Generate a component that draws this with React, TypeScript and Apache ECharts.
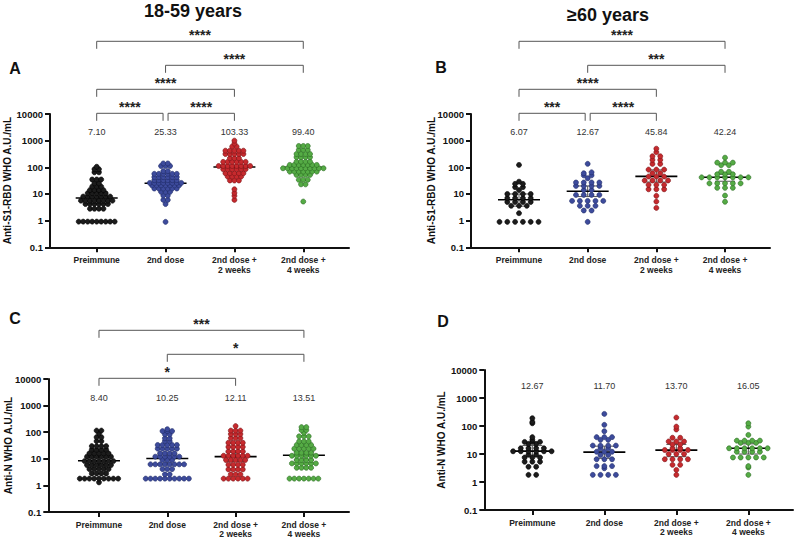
import React, { useEffect, useRef } from "react";
import * as echarts from "echarts";

// ---------- data ----------
const CATEGORIES = ["Preimmune", "2nd dose", "2nd dose +\n2 weeks", "2nd dose +\n4 weeks"];
const Y_TICKS = [0.1, 1, 10, 100, 1000, 10000];

// Panel A: Anti-S1-RBD, 18-59 years
const A_PRE = [105, 85, 85, 65, 65, 35, 35, 35, 25, 25, 19, 19, 19, 14, 14, 14, 14, 10.7, 10.7, 10.7, 10.7, 10.7, 8, 8, 8, 8, 8, 8, 8, 5.6, 5.6, 5.6, 5.6, 5.6, 5.6, 5.6, 5.6, 4.2, 4.2, 4.2, 4.2, 4.2, 4.2, 2.8, 2.8, 2.8, 2.8, 0.92, 0.92, 0.92, 0.92, 0.92, 0.92, 0.92, 0.92, 0.92];
const A_DOSE2 = [140, 140, 112, 112, 112, 72, 72, 57, 57, 57, 57, 57, 57, 43, 43, 43, 43, 43, 43, 33, 33, 33, 33, 33, 33, 26, 26, 26, 26, 26, 26, 26, 26, 21, 21, 21, 21, 21, 21, 21, 16, 16, 16, 16, 16, 16, 12, 12, 12, 8.7, 8.7, 6, 6, 4.2, 0.9];
const A_WK2 = [1000, 780, 600, 600, 420, 420, 420, 420, 420, 316, 316, 316, 316, 316, 220, 220, 220, 160, 160, 160, 160, 160, 160, 112, 112, 112, 112, 112, 112, 112, 112, 85, 85, 85, 85, 85, 85, 60, 60, 60, 60, 60, 45, 45, 45, 45, 32, 32, 32, 15, 11, 8.5, 6];
const A_WK4 = [630, 630, 630, 450, 450, 450, 316, 316, 316, 316, 240, 240, 240, 240, 163, 163, 163, 163, 123, 123, 123, 123, 123, 123, 123, 92, 92, 92, 92, 92, 92, 92, 92, 92, 92, 69, 69, 69, 69, 69, 69, 69, 52, 52, 52, 52, 34, 34, 34, 23, 23, 5.2];
const A_MEDIANS = [7.1, 25.33, 103.33, 99.4];
const A_CI_LOW = [5.5, 21, 85, 80];
const A_CI_HIGH = [10, 30, 120, 115];

// Panel B: Anti-S1-RBD, >=60 years
const B_PRE = [123, 29, 24, 24, 18, 18, 14, 10, 10, 10, 10, 7, 7, 7, 7, 5, 5, 5, 5, 3.6, 3.6, 3.6, 1.9, 0.9, 0.9, 0.9, 0.9, 0.9, 0.9];
const B_DOSE2 = [135, 65, 60, 50, 50, 39, 27, 27, 27, 27, 20, 20, 20, 20, 14, 14, 9.2, 9.2, 9.2, 9.2, 5.5, 5.5, 5.5, 5.5, 5.5, 3.6, 3.6, 3.6, 2.4, 2.4, 0.9];
const B_WK2 = [500, 370, 260, 260, 190, 190, 134, 134, 82, 82, 82, 60, 60, 45, 45, 45, 32, 32, 32, 32, 22, 22, 22, 15, 15, 15, 8.5, 5.2, 3];
const B_WK4 = [230, 150, 150, 150, 120, 120, 68, 68, 55, 55, 55, 42, 42, 42, 42, 42, 42, 42, 25, 25, 25, 25, 25, 17, 17, 17, 8.7, 5.1];
const B_MEDIANS = [6.07, 12.67, 45.84, 42.24];
const B_CI_LOW = [3.5, 8, 28, 30];
const B_CI_HIGH = [10, 20, 80, 55];

// Panel C: Anti-N, 18-59 years
const C_PRE = [115, 115, 90, 65, 65, 46, 46, 30, 30, 30, 30, 22, 22, 22, 22, 16, 16, 16, 16, 16, 12, 12, 12, 12, 12, 12, 8.2, 8.2, 8.2, 8.2, 8.2, 8.2, 8.2, 5.8, 5.8, 5.8, 5.8, 5.8, 5.8, 4.1, 4.1, 4.1, 4.1, 4.1, 2.8, 2.8, 2.8, 2.8, 1.8, 1.8, 1.8, 1.8, 1.8, 1.8, 1.8, 1.8, 1.8, 1.3];
const C_DOSE2 = [130, 110, 110, 110, 83, 83, 59, 59, 46, 46, 33, 33, 33, 33, 33, 24, 24, 24, 24, 24, 16, 16, 16, 16, 12, 12, 12, 12, 12, 12, 9, 9, 9, 6.2, 6.2, 6.2, 6.2, 6.2, 6.2, 6.2, 6.2, 4.1, 4.1, 4.1, 2.6, 2.6, 1.8, 1.8, 1.8, 1.8, 1.8, 1.8, 1.8, 1.8, 1.8, 1.8];
const C_WK2 = [170, 115, 115, 115, 85, 85, 85, 60, 60, 60, 40, 40, 40, 40, 28, 28, 28, 28, 19, 19, 19, 19, 13, 13, 13, 13, 13, 13, 9, 9, 9, 9, 9, 6, 6, 6, 6, 4, 4, 4, 4, 2.6, 2.6, 2.6, 1.8, 1.8, 1.8, 1.8, 1.8, 1.8];
const C_WK4 = [155, 155, 120, 120, 95, 70, 70, 70, 45, 45, 45, 33, 33, 33, 33, 24, 24, 24, 24, 24, 17, 17, 17, 17, 13, 13, 13, 13, 13, 13, 9, 9, 9, 9, 6.7, 6.7, 6.7, 6.7, 6.7, 6.7, 4.6, 4.6, 4.6, 4.6, 1.8, 1.8, 1.8, 1.8, 1.8, 1.8, 1.8];
const C_MEDIANS = [8.4, 10.25, 12.11, 13.51];
const C_CI_LOW = [6, 6, 8, 9];
const C_CI_HIGH = [11, 15, 18, 18];

// Panel D: Anti-N, >=60 years
const D_PRE = [190, 140, 125, 40, 32, 27, 27, 27, 23, 23, 16, 16, 16, 16, 12.5, 12.5, 12.5, 12.5, 12.5, 12.5, 9.5, 9.5, 7.5, 7.5, 7.5, 5.3, 5.3, 5.3, 3.5, 3.5, 1.8, 1.8];
const D_DOSE2 = [270, 110, 65, 40, 40, 40, 32, 32, 20, 20, 20, 20, 16, 16, 12, 12, 12, 9.2, 9.2, 6.5, 6.5, 6.5, 3.7, 3.7, 3.7, 3.1, 1.8, 1.8, 1.8, 1.8];
const D_WK2 = [200, 95, 75, 38, 38, 28, 28, 28, 22, 22, 16, 16, 13.9, 13.9, 13.9, 13.9, 10, 10, 10, 6.5, 6.5, 6.5, 6.5, 4.1, 4.1, 2.7, 1.8];
const D_WK4 = [125, 95, 48, 30, 30, 30, 30, 25, 25, 25, 16, 16, 16, 16, 16, 16, 12, 12, 12, 12, 7.5, 7.5, 7.5, 7.5, 7.5, 3.7, 3.3, 1.8];
const D_MEDIANS = [12.67, 11.7, 13.7, 16.05];
const D_CI_LOW = [8, 7, 8, 10];
const D_CI_HIGH = [20, 19, 22, 23];

const MEDIAN_LABELS_A = ["7.10", "25.33", "103.33", "99.40"];
const MEDIAN_LABELS_B = ["6.07", "12.67", "45.84", "42.24"];
const MEDIAN_LABELS_C = ["8.40", "10.25", "12.11", "13.51"];
const MEDIAN_LABELS_D = ["12.67", "11.70", "13.70", "16.05"];

// significance brackets: [fromCategory, toCategory, level, stars]
const BRACKETS_A: [number, number, number, string][] = [[1, 4, 3, "****"], [2, 4, 2, "****"], [1, 3, 1, "****"], [1, 2, 0, "****"], [2, 3, 0, "****"]];
const BRACKETS_B: [number, number, number, string][] = [[1, 4, 3, "****"], [2, 4, 2, "***"], [1, 3, 1, "****"], [1, 2, 0, "***"], [2, 3, 0, "****"]];
const BRACKETS_C: [number, number, number, string][] = [[1, 4, 2, "***"], [2, 4, 1, "*"], [1, 3, 0, "*"]];
const BRACKETS_D: [number, number, number, string][] = [];

const Y_TITLES = ["Anti-S1-RBD WHO A.U./mL", "Anti-S1-RBD WHO A.U./mL", "Anti-N WHO A.U./mL", "Anti-N WHO A.U./mL"];
const PANEL_LETTERS = ["A", "B", "C", "D"];
const AGE_TITLES = ["18-59 years", "\u226560 years"];

// ---------- styling / layout ----------
const FONT = "'Liberation Sans', Arial, Helvetica, sans-serif";
const GROUP_FILL = ["#1c1c1c", "#3d4b9c", "#c62a2e", "#55ab45"];
const GROUP_BORDER = ["#000000", "#1f2a66", "#7a1216", "#2a6a22"];

const LAYOUT = [
  { left: 50, top: 114, width: 299, height: 133.3, xmin: 0.322, xmax: 4.664, labelOff: 17.5, ytx: 7.5, yty: 180.6, dx: 4.5 },
  { left: 471, top: 114, width: 299, height: 133.3, xmin: 0.301, xmax: 4.655, labelOff: 17.5, ytx: 431.5, yty: 180.6, dx: 7.8 },
  { left: 48.3, top: 379, width: 300.7, height: 133, xmin: 0.258, xmax: 4.66, labelOff: 18.7, ytx: 8, yty: 445.5, dx: 4.8 },
  { left: 484.3, top: 370, width: 308.7, height: 140, xmin: 0.333, xmax: 4.62, labelOff: 16, ytx: 441, yty: 440, dx: 7.7 },
];

const PANELS = [
  { groups: [A_PRE, A_DOSE2, A_WK2, A_WK4], med: A_MEDIANS, lo: A_CI_LOW, hi: A_CI_HIGH, labels: MEDIAN_LABELS_A, brackets: BRACKETS_A },
  { groups: [B_PRE, B_DOSE2, B_WK2, B_WK4], med: B_MEDIANS, lo: B_CI_LOW, hi: B_CI_HIGH, labels: MEDIAN_LABELS_B, brackets: BRACKETS_B },
  { groups: [C_PRE, C_DOSE2, C_WK2, C_WK4], med: C_MEDIANS, lo: C_CI_LOW, hi: C_CI_HIGH, labels: MEDIAN_LABELS_C, brackets: BRACKETS_C },
  { groups: [D_PRE, D_DOSE2, D_WK2, D_WK4], med: D_MEDIANS, lo: D_CI_LOW, hi: D_CI_HIGH, labels: MEDIAN_LABELS_D, brackets: BRACKETS_D },
];

// scatter-dot-plot layout: points of (nearly) equal value form a centred row
function rowLayout(values: number[], cat: number, kx: number, ky: number, spacing: number): [number, number][] {
  const sorted = [...values].sort((a, b) => a - b);
  const rows: number[][] = [];
  let cur: number[] = [];
  for (const v of sorted) {
    if (cur.length && (Math.log10(v) - Math.log10(cur[0])) * ky > 1) { rows.push(cur); cur = []; }
    cur.push(v);
  }
  if (cur.length) rows.push(cur);
  const out: [number, number][] = [];
  rows.forEach((row) => {
    const n = row.length;
    row.forEach((v, j) => out.push([cat + ((j - (n - 1) / 2) * spacing) / kx, v]));
  });
  return out;
}

function fmtLog(v: number) {
  return String(Number(v.toPrecision(6)));
}

function buildOption() {
  const grid: any[] = [];
  const xAxis: any[] = [];
  const yAxis: any[] = [];
  const series: any[] = [];
  const graphic: any[] = [];

  PANELS.forEach((panel, pi) => {
    const L = LAYOUT[pi];
    grid.push({ left: L.left, top: L.top, width: L.width, height: L.height, containLabel: false });
    xAxis.push({
      type: "value", gridIndex: pi, min: L.xmin, max: L.xmax,
      axisLine: { show: true, lineStyle: { color: "#111", width: 2 } },
      axisTick: { show: true, length: 5, lineStyle: { color: "#111", width: 2 }, customValues: [1, 2, 3, 4] },
      axisLabel: {
        customValues: [1, 2, 3, 4],
        formatter: (v: number) => CATEGORIES[Math.round(v) - 1] || "",
        fontFamily: FONT, fontWeight: "bold", fontSize: 8.5, lineHeight: 9.5, color: "#222", margin: 8,
      },
      splitLine: { show: false },
    });
    yAxis.push({
      type: "log", logBase: 10, gridIndex: pi, min: 0.1, max: 10000,
      axisLine: { show: true, lineStyle: { color: "#111", width: 2 } },
      axisTick: { show: true, length: 5, lineStyle: { color: "#111", width: 2 }, customValues: Y_TICKS },
      axisLabel: { customValues: Y_TICKS, formatter: fmtLog, fontFamily: FONT, fontWeight: "bold", fontSize: 9.5, color: "#111", margin: 7 },
      splitLine: { show: false },
      minorTick: { show: false },
    });

    const kx = L.width / (L.xmax - L.xmin);
    const ky = L.height / 5;

    panel.groups.forEach((vals, gi) => {
      series.push({
        type: "scatter", xAxisIndex: pi, yAxisIndex: pi,
        data: rowLayout(vals, gi + 1, kx, ky, L.dx),
        symbol: "circle", symbolSize: 5,
        itemStyle: { color: GROUP_FILL[gi], borderColor: GROUP_BORDER[gi], borderWidth: 0.6, opacity: 1 },
        silent: true,
      });
    });

    const labels = panel.labels;
    series.push({
      type: "custom", xAxisIndex: pi, yAxisIndex: pi, clip: false, silent: true,
      data: panel.med.map((m, i) => [i + 1, m, panel.lo[i], panel.hi[i]]),
      encode: { x: 0, y: [1, 2, 3] },
      renderItem: (params: any, api: any) => {
        const i = params.dataIndex;
        const x = api.value(0);
        const c = api.coord([x, api.value(1)]);
        const lo = api.coord([x, api.value(2)]);
        const hi = api.coord([x, api.value(3)]);
        const top = api.coord([x, 10000])[1];
        const gray = { stroke: "#555", lineWidth: 1 };
        return {
          type: "group",
          children: [
            { type: "line", shape: { x1: c[0], y1: lo[1], x2: c[0], y2: hi[1] }, style: gray },
            { type: "line", shape: { x1: c[0] - 10, y1: lo[1], x2: c[0] + 10, y2: lo[1] }, style: gray },
            { type: "line", shape: { x1: c[0] - 10, y1: hi[1], x2: c[0] + 10, y2: hi[1] }, style: gray },
            { type: "line", shape: { x1: c[0] - 21, y1: c[1], x2: c[0] + 21, y2: c[1] }, style: { stroke: "#000", lineWidth: 1.6 } },
            {
              type: "text", x: c[0], y: top + L.labelOff,
              style: { text: labels[i], fontFamily: FONT, fontSize: 9, fill: "#333", align: "center", verticalAlign: "middle" },
            },
          ],
        };
      },
    });

    const br = panel.brackets;
    if (br.length) {
      series.push({
        type: "custom", xAxisIndex: pi, yAxisIndex: pi, clip: false, silent: true,
        data: br.map((b) => [b[0], b[1], 1000]),
        encode: { x: [0, 1], y: 2 },
        renderItem: (params: any, api: any) => {
          const i = params.dataIndex;
          const b = br[i];
          let x1 = api.coord([b[0], 1])[0];
          let x2 = api.coord([b[1], 1])[0];
          const top = api.coord([b[0], 10000])[1];
          if (br.some((o, j) => j !== i && o[2] === b[2] && o[1] === b[0])) x1 += 2.5;
          if (br.some((o, j) => j !== i && o[2] === b[2] && o[0] === b[1])) x2 -= 2.5;
          const y = top - 0.7 - 24 * b[2];
          return {
            type: "group",
            children: [
              { type: "polyline", shape: { points: [[x1, y + 7.5], [x1, y], [x2, y], [x2, y + 7.5]] }, style: { stroke: "#555", lineWidth: 1, fill: null } },
              {
                type: "text", x: (x1 + x2) / 2, y: y - 6,
                style: { text: b[3], fontFamily: FONT, fontSize: 14, fontWeight: "bold", fill: "#222", align: "center", verticalAlign: "middle" },
              },
            ],
          };
        },
      });
    }

    graphic.push({
      type: "text", x: L.ytx, y: L.yty, rotation: Math.PI / 2,
      style: { text: Y_TITLES[pi], fontFamily: FONT, fontSize: 10, fontWeight: "bold", fill: "#111", align: "center", verticalAlign: "middle" },
    });
  });

  const letterPos = [[15, 68.7], [441, 67.5], [15, 318], [443, 321]];
  PANEL_LETTERS.forEach((t, i) => {
    graphic.push({
      type: "text", x: letterPos[i][0], y: letterPos[i][1],
      style: { text: t, fontFamily: FONT, fontSize: 16, fontWeight: "bold", fill: "#111", align: "center", verticalAlign: "middle" },
    });
  });
  const titlePos = [[193, 11], [608, 15]];
  AGE_TITLES.forEach((t, i) => {
    graphic.push({
      type: "text", x: titlePos[i][0], y: titlePos[i][1],
      style: { text: t, fontFamily: FONT, fontSize: 18, fontWeight: "bold", fill: "#111", align: "center", verticalAlign: "middle" },
    });
  });

  return {
    animation: false,
    backgroundColor: "#ffffff",
    textStyle: { fontFamily: FONT },
    grid, xAxis, yAxis, series, graphic,
  };
}

export default function App() {
  const ref = useRef<HTMLDivElement>(null);
  useEffect(() => {
    if (!ref.current) return;
    const chart = echarts.init(ref.current, null, { renderer: "svg" });
    chart.setOption(buildOption() as any);
    return () => chart.dispose();
  }, []);
  return <div ref={ref} style={{ position: "fixed", left: 0, top: 0, width: 800, height: 540, background: "#fff" }} />;
}
